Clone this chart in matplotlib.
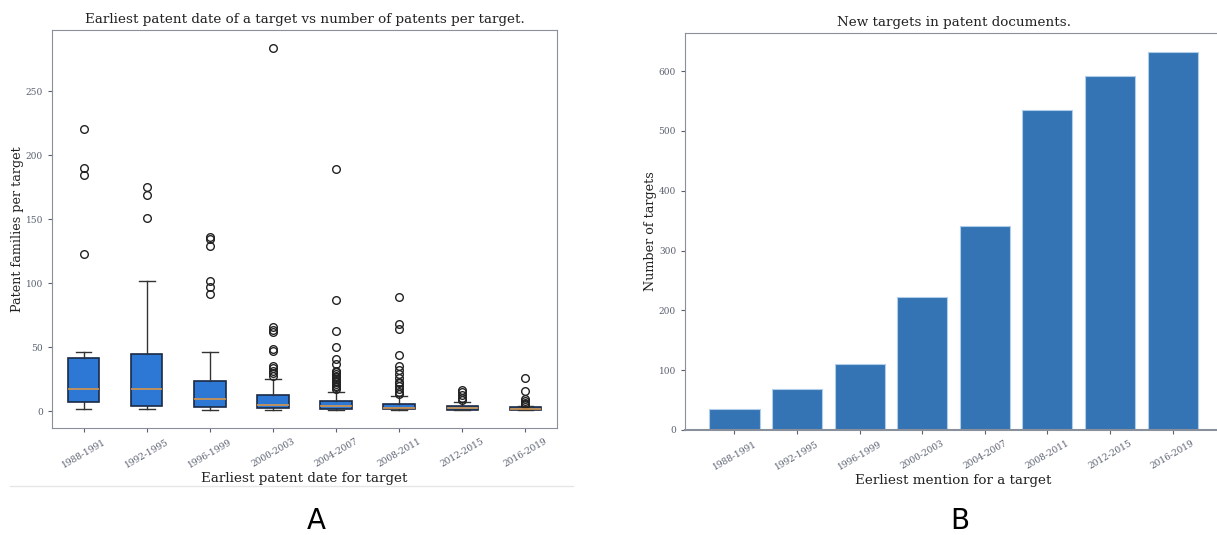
import matplotlib
matplotlib.use("Agg")
import matplotlib.pyplot as plt
from matplotlib.lines import Line2D

plt.rcParams['font.family'] = ['DejaVu Serif']

periods = ["1988-1991", "1992-1995", "1996-1999", "2000-2003",
           "2004-2007", "2008-2011", "2012-2015", "2016-2019"]

# patent families per target: box statistics for each period
q1 = [7, 4.2, 3.6, 2.8, 1.8, 1.6, 1.2, 1.3]
med = [17.7, 17.2, 9.6, 4.9, 3.8, 2.4, 2.3, 2.1]
q3 = [42, 44.5, 23.4, 12.5, 7.8, 6, 4, 3.1]
whis_lo = [1.8, 1.8, 1, 1, 1, 1, 1, 1]
whis_hi = [46.4, 102, 46.6, 25, 15.4, 12, 7, 4.2]
fliers = [
    [123, 185, 190, 221],
    [151, 169, 175],
    [92, 97, 102, 129, 135, 136],
    [27.3, 29.7, 31.8, 33.9, 35.7, 47, 49, 62, 63.5, 65.6, 284],
    [17.4, 18.8, 20, 21.4, 22.7, 24, 25.3, 26.6, 27.9, 29.2, 30.5, 31.8,
     37, 41, 50, 63, 87, 189],
    [13.5, 15.4, 17.4, 20, 21.9, 23.2, 25.8, 29.2, 32.3, 35.4, 44, 64, 68, 89],
    [8.9, 10.4, 12.8, 14.8, 16.7],
    [4.9, 5.7, 6.8, 7.8, 9.6, 15.6, 26],
]

# number of new targets per period
new_targets = [35, 68, 111, 222, 341, 535, 592, 632]

tick_col = '#5a6070'
spine_col = '#8a8f9c'
text_col = '#222222'

fig = plt.figure(figsize=(12.17, 5.35), dpi=100)

# ---- A: boxplot ----
ax1 = fig.add_axes([0.0427, 0.2, 0.415, 0.744])
stats = []
for i in range(len(periods)):
    stats.append(dict(med=med[i], q1=q1[i], q3=q3[i],
                      whislo=whis_lo[i], whishi=whis_hi[i],
                      fliers=fliers[i], label=periods[i]))
ax1.bxp(stats, widths=0.5, patch_artist=True,
        boxprops=dict(facecolor='#2c78d4', edgecolor='#1a2a45', linewidth=1.2),
        medianprops=dict(color='#d8954a', linewidth=1.2),
        whiskerprops=dict(color='#333333', linewidth=1),
        capprops=dict(color='#333333', linewidth=1),
        flierprops=dict(marker='o', markerfacecolor='none',
                        markeredgecolor='#222222', markersize=5.5, markeredgewidth=1))
ax1.set_xlim(0.5, 8.5)
ax1.set_ylim(-13, 298)
ax1.set_yticks([0, 50, 100, 150, 200, 250])
ax1.set_title("Earliest patent date of a target vs number of patents per target.",
              fontsize=9.7, color=text_col, pad=5)
ax1.set_xlabel("Earliest patent date for target", fontsize=9.7, color=text_col, labelpad=2)
ax1.set_ylabel("Patent families per target", fontsize=9.2, color=text_col, labelpad=1)
for lbl in ax1.get_xticklabels():
    lbl.set_rotation(30)
    lbl.set_ha('center')
ax1.tick_params(labelsize=6.5, colors=tick_col, length=3)
for s in ax1.spines.values():
    s.set_color(spine_col)

# ---- B: bar chart ----
ax2 = fig.add_axes([0.5629, 0.1963, 0.4412, 0.742])
ax2.bar(periods, new_targets, width=0.8, color='#3474b4', edgecolor='#b0cdea', linewidth=0.8)
ax2.set_xlim(-0.79, 7.79)
ax2.set_ylim(0, 663.6)
ax2.set_yticks([0, 100, 200, 300, 400, 500, 600])
ax2.set_title("New targets in patent documents.", fontsize=9.7, color=text_col, pad=5)
ax2.set_xlabel("Eerliest mention for a target", fontsize=9.7, color=text_col, labelpad=2)
ax2.set_ylabel("Number of targets", fontsize=9.2, color=text_col, labelpad=1)
for lbl in ax2.get_xticklabels():
    lbl.set_rotation(30)
    lbl.set_ha('center')
ax2.tick_params(labelsize=6.5, colors=tick_col, length=3)
for s in ax2.spines.values():
    s.set_color(spine_col)
ax2.spines['bottom'].set_linewidth(1.5)

# separator under panel A and panel letters
fig.add_artist(Line2D([10 / 1217, 573 / 1217], [1 - 486 / 535, 1 - 486 / 535],
                      color='#e6e6e6', linewidth=1))
fig.text(316 / 1217, 1 - 521 / 535, "A", ha='center', va='center',
         fontsize=20, family='DejaVu Sans', color='black')
fig.text(960 / 1217, 1 - 521 / 535, "B", ha='center', va='center',
         fontsize=20, family='DejaVu Sans', color='black')

fig.savefig("out.png", dpi=100)
